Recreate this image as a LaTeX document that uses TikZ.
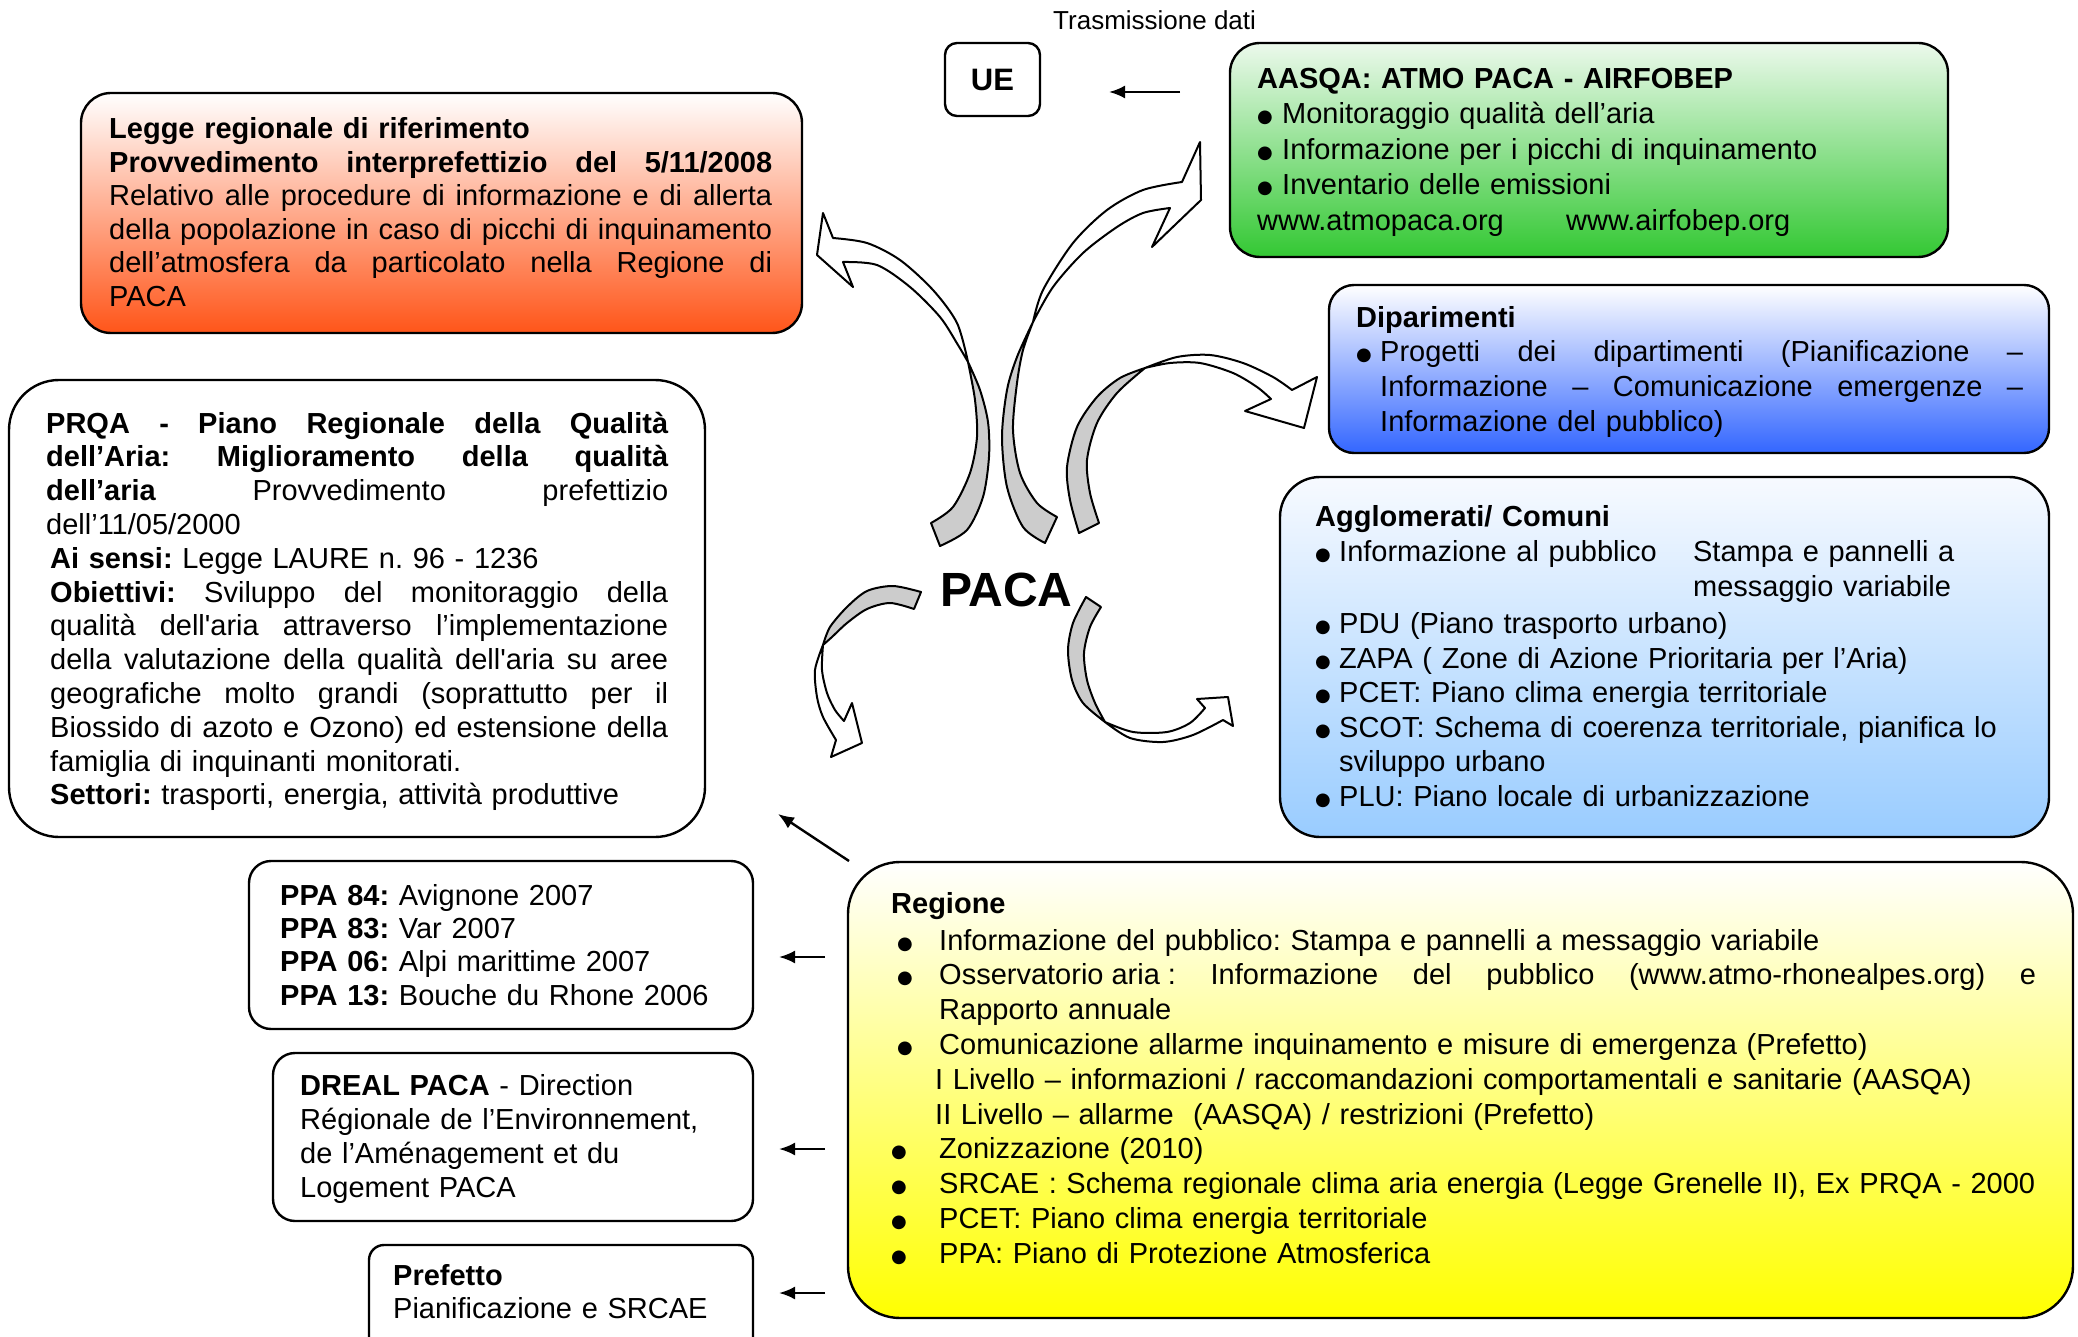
\documentclass[tikz,border=0pt]{standalone}
\usepackage{fontspec}
\newfontfamily\arial{Liberation Sans}
\newfontfamily\dotfont{DejaVu Sans}
\usetikzlibrary{arrows.meta}

\definecolor{leggeBot}{RGB}{255,85,25}
\definecolor{aasqaTop}{RGB}{236,249,236}
\definecolor{aasqaBot}{RGB}{51,200,51}
\definecolor{dipBot}{RGB}{51,102,255}
\definecolor{aggTop}{RGB}{247,250,255}
\definecolor{aggBot}{RGB}{153,204,255}
\definecolor{regBot}{RGB}{255,255,0}
\definecolor{bandGray}{RGB}{204,204,204}

% justified line of a given width, bullet cell of a given width, first-line strut
\newcommand\jl[2]{{\spaceskip=0pt\xspaceskip=0pt\makebox[#1pt][s]{#2}}}
\newcommand\bul[1]{\makebox[#1pt][l]{\raisebox{1pt}{\dotfont\fontsize{18}{18}\selectfont ●}}}
\newcommand\fl{\rule{0pt}{24pt}}

\begin{document}
\begin{tikzpicture}[x=1pt, y=-1pt,
  panel/.style={draw=black, line width=2.4pt, inner sep=0pt},
  txt/.style={inner sep=0pt, anchor=north west},
  body/.style={font=\arial\fontsize{29}{#1}\selectfont\frenchspacing},
  link/.style={line width=2.4pt, -{Latex[length=16pt,width=13pt]}},
  band/.style={draw=black, line width=2pt, line join=round, fill=bandGray},
  front/.style={draw=black, line width=2pt, line join=round, fill=white}]

\useasboundingbox (0,0) rectangle (2078,1337);
\clip (0,0) rectangle (2078,1337);

% ---------- boxes ----------
\node[panel, rounded corners=30pt, top color=white, bottom color=leggeBot,
      minimum width=721pt, minimum height=240pt] (legge) at (441.5,213) {};
\node[panel, rounded corners=12pt, minimum width=95pt, minimum height=73pt,
      font=\arial\bfseries\fontsize{31}{36}\selectfont] (ue) at (992.5,79.5) {UE};
\node[panel, rounded corners=30pt, top color=aasqaTop, bottom color=aasqaBot,
      minimum width=718pt, minimum height=214pt] (aasqa) at (1589,150) {};
\node[panel, rounded corners=25pt, top color=white, bottom color=dipBot,
      minimum width=720pt, minimum height=168pt] (dip) at (1689,369) {};
\node[panel, rounded corners=40pt, top color=aggTop, bottom color=aggBot,
      minimum width=769pt, minimum height=360pt] (agg) at (1664.5,657) {};
\node[panel, rounded corners=50pt, fill=white,
      minimum width=696pt, minimum height=457pt] (prqa) at (357,608.5) {};
\node[panel, rounded corners=22pt, fill=white,
      minimum width=504pt, minimum height=168pt] (ppa) at (501,945) {};
\node[panel, rounded corners=22pt, fill=white,
      minimum width=480pt, minimum height=168pt] (dreal) at (513,1137) {};
\node[panel, rounded corners=15pt, fill=white,
      minimum width=384pt, minimum height=145pt] (prefetto) at (561,1317.5) {};
\node[panel, rounded corners=52pt, top color=white, bottom color=regBot,
      minimum width=1225pt, minimum height=456pt] (regione) at (1460.5,1090) {};

% ---------- texts ----------
\node[anchor=base west, inner sep=0pt, font=\arial\fontsize{26}{30}\selectfont]
  (trasm) at (1053,30) {Trasmissione dati};

\node[anchor=base west, inner sep=0pt, font=\arial\bfseries\fontsize{48}{56}\selectfont]
  (paca) at (940,606) {PACA};

\node[txt, body=33.6, text width=700pt] (leggeText) at (109,114.3) {\fl\textbf{Legge regionale di riferimento}\\
\jl{663}{\textbf{Provvedimento interprefettizio del 5/11/2008}}\\
\jl{663}{Relativo alle procedure di informazione e di allerta}\\
\jl{663}{della popolazione in caso di picchi di inquinamento}\\
\jl{663}{dell’atmosfera da particolato nella Regione di}\\
PACA};

\node[txt, body=35.5, text width=680pt] (aasqaText) at (1257,64) {\fl\textbf{AASQA: ATMO PACA - AIRFOBEP}\\
\bul{25}Monitoraggio qualità dell’aria\\
\bul{25}Informazione per i picchi di inquinamento\\
\bul{25}Inventario delle emissioni\\
\makebox[309pt][l]{www.atmopaca.org}www.airfobep.org};

\node[txt, body=34.7, text width=690pt] (dipText) at (1356,303) {\fl\textbf{Diparimenti}\\
\bul{24}\jl{643}{Progetti dei dipartimenti (Pianificazione –}\\
\hspace*{24pt}\jl{643}{Informazione – Comunicazione emergenze –}\\
\hspace*{24pt}Informazione del pubblico)};

\node[txt, body=34.6, text width=730pt] (aggText) at (1315,502.7) {\fl\textbf{Agglomerati/ Comuni}\\
\bul{24}\makebox[354pt][l]{Informazione al pubblico}Stampa e pannelli a\\
\hspace*{378pt}messaggio variabile\\[2.7pt]
\bul{24}PDU (Piano trasporto urbano)\\
\bul{24}ZAPA ( Zone di Azione Prioritaria per l’Aria)\\
\bul{24}PCET: Piano clima energia territoriale\\
\bul{24}SCOT: Schema di coerenza territoriale, pianifica lo\\
\hspace*{24pt}sviluppo urbano\\
\bul{24}PLU: Piano locale di urbanizzazione};

\node[txt, body=33.8, text width=640pt] (prqaText) at (46,409) {\fl\jl{622}{\textbf{PRQA - Piano Regionale della Qualità}}\\
\jl{622}{\textbf{dell’Aria: Miglioramento della qualità}}\\
\jl{622}{\textbf{dell’aria} Provvedimento prefettizio}\\
dell’11/05/2000\\
\hspace*{4pt}\textbf{Ai sensi:} Legge LAURE n. 96 - 1236\\
\hspace*{4pt}\jl{618}{\textbf{Obiettivi:} Sviluppo del monitoraggio della}\\
\hspace*{4pt}\jl{618}{qualità dell'aria attraverso l’implementazione}\\
\hspace*{4pt}\jl{618}{della valutazione della qualità dell'aria su aree}\\
\hspace*{4pt}\jl{618}{geografiche molto grandi (soprattutto per il}\\
\hspace*{4pt}\jl{618}{Biossido di azoto e Ozono) ed estensione della}\\
\hspace*{4pt}famiglia di inquinanti monitorati.\\
\hspace*{4pt}\textbf{Settori:} trasporti, energia, attività produttive};

\node[txt, body=33.3, text width=460pt] (ppaText) at (280,881) {\fl\textbf{PPA 84:} Avignone 2007\\
\textbf{PPA 83:} Var 2007\\
\textbf{PPA 06:} Alpi marittime 2007\\
\textbf{PPA 13:} Bouche du Rhone 2006};

\node[txt, body=34, text width=440pt] (drealText) at (300,1071) {\fl\textbf{DREAL PACA} - Direction\\
Régionale de l’Environnement,\\
de l’Aménagement et du\\
Logement PACA};

\node[txt, body=33, text width=350pt] (prefettoText) at (393,1261) {\fl\textbf{Prefetto}\\
Pianificazione e SRCAE};

\node[txt, body=34.8, text width=1170pt] (regioneText) at (891,889) {\fl\textbf{Regione}\\[2pt]
\hspace*{6pt}\bul{42}Informazione del pubblico: Stampa e pannelli a messaggio variabile\\
\hspace*{6pt}\bul{42}\jl{1097}{Osservatorio\hspace{8pt}aria\hspace{8pt}: Informazione del pubblico (www.atmo-rhonealpes.org) e}\\
\hspace*{48pt}Rapporto annuale\\
\hspace*{6pt}\bul{42}Comunicazione allarme inquinamento e misure di emergenza (Prefetto)\\
\hspace*{44pt}I Livello – informazioni / raccomandazioni comportamentali e sanitarie (AASQA)\\
\hspace*{44pt}II Livello – allarme\ \ (AASQA) / restrizioni (Prefetto)\\
\bul{48}Zonizzazione (2010)\\
\bul{48}SRCAE : Schema regionale clima aria energia (Legge Grenelle II), Ex PRQA - 2000\\
\bul{48}PCET: Piano clima energia territoriale\\
\bul{48}PPA: Piano di Protezione Atmosferica};

% ---------- straight arrows ----------
\coordinate (ueFrom) at (1180,92);   \coordinate (ueTo) at (1109,92);
\coordinate (prqaFrom) at (849,861); \coordinate (prqaTo) at (778,814);
\coordinate (ppaFrom) at (825,957);  \coordinate (ppaTo) at (779,957);
\coordinate (drealFrom) at (825,1149); \coordinate (drealTo) at (779,1149);
\coordinate (prefFrom) at (825,1293);  \coordinate (prefTo) at (779,1293);
\draw[link] (ueFrom) -- (ueTo);
\draw[link] (prqaFrom) -- (prqaTo);
\draw[link] (ppaFrom) -- (ppaTo);
\draw[link] (drealFrom) -- (drealTo);
\draw[link] (prefFrom) -- (prefTo);

% ---------- curved ribbon arrows around PACA ----------
% towards the regional law (up-left)
\filldraw[band] plot[smooth] coordinates {(931,523) (953,507) (970,473) (977,437) (975,400) (968,362)}
  -- plot[smooth] coordinates {(968,362) (980,390) (988,422) (989,457) (983,497) (967,530) (940,546)} -- cycle;
\filldraw[front] plot[smooth] coordinates {(968,362) (957,323) (933,290) (900,260) (867,243) (833,238)}
  -- (823,213) -- (817,255) -- (853,287) -- (843,262)
  -- plot[smooth] coordinates {(843,262) (877,265) (910,287) (940,317) (958,345) (968,362)} -- cycle;

% towards AASQA (up-right)
\filldraw[band] plot[smooth] coordinates {(1045,543) (1023,527) (1007,487) (1002,437) (1007,390) (1017,357) (1033,322)}
  -- plot[smooth] coordinates {(1033,322) (1023,350) (1017,383) (1013,430) (1020,473) (1037,503) (1057,517)} -- cycle;
\filldraw[front] plot[smooth] coordinates {(1033,322) (1043,290) (1073,243) (1107,210) (1143,190) (1182,182)}
  -- (1200,142) -- (1201,200) -- (1152,247) -- (1170,208)
  -- plot[smooth] coordinates {(1170,208) (1143,213) (1117,227) (1083,253) (1053,287) (1033,322)} -- cycle;

% towards the departments (right)
\filldraw[band] plot[smooth] coordinates {(1079,533) (1070,500) (1067,467) (1077,427) (1097,397) (1120,378) (1145,368)}
  -- plot[smooth] coordinates {(1145,368) (1117,393) (1097,423) (1087,460) (1090,493) (1099,523)} -- cycle;
\filldraw[front] plot[smooth] coordinates {(1145,368) (1177,357) (1210,355) (1243,363) (1273,377) (1292,390)}
  -- (1317,377) -- (1304,428) -- (1245,411) -- (1271,399)
  -- plot[smooth] coordinates {(1271,399) (1257,387) (1233,373) (1200,363) (1170,363) (1145,368)} -- cycle;

% towards the lower left
\filldraw[band] plot[smooth] coordinates {(921,592) (893,586) (867,591) (847,607) (830,627) (823,645)}
  -- plot[smooth] coordinates {(823,645) (832,637) (847,623) (867,609) (890,603) (914,609)} -- cycle;
\filldraw[front] plot[smooth] coordinates {(823,645) (815,670) (817,697) (823,717) (836,740)}
  -- (831,757) -- (862,743) -- (852,703) -- (844,721)
  -- plot[smooth] coordinates {(844,721) (835,710) (827,693) (822,670) (823,645)} -- cycle;

% towards the municipalities (lower right)
\filldraw[band] plot[smooth] coordinates {(1086,597) (1073,623) (1068,650) (1072,680) (1083,703) (1105,722)}
  -- plot[smooth] coordinates {(1105,722) (1095,703) (1087,680) (1084,653) (1090,627) (1101,607)} -- cycle;
\filldraw[front] plot[smooth] coordinates {(1105,722) (1130,738) (1163,742) (1193,735) (1223,720)}
  -- (1233,726) -- (1228,697) -- (1197,699) -- (1205,708)
  -- plot[smooth] coordinates {(1205,708) (1190,723) (1167,732) (1133,732) (1105,722)} -- cycle;

\end{tikzpicture}
\end{document}
